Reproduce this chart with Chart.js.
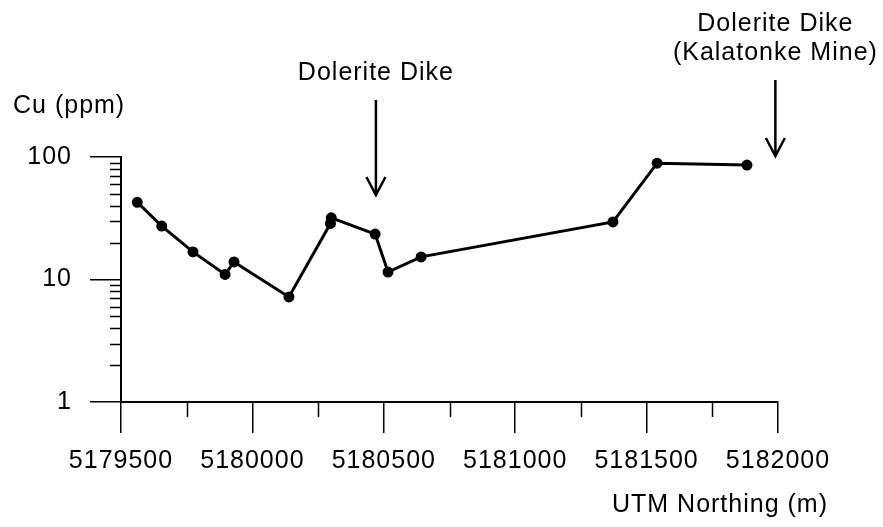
<!DOCTYPE html>
<html>
<head>
<meta charset="utf-8">
<script src="https://cdn.jsdelivr.net/npm/chart.js@4/dist/chart.umd.min.js"></script>
<style>
  html, body { margin: 0; padding: 0; background: #fff; }
  #wrap { width: 883px; height: 527px; }
</style>
</head>
<body>
<div id="wrap"><canvas id="myChart"></canvas></div>
<script>
// datos
const northing = [5179562, 5179655, 5179774, 5179896, 5179930, 5180139, 5180297, 5180300, 5180467, 5180516, 5180642, 5181372, 5181540, 5181882];
const cu = [42.7, 27.3, 16.8, 11.0, 13.9, 7.2, 28.7, 31.9, 23.5, 11.5, 15.3, 29.5, 89, 86];

const xTicks = [5179500, 5180000, 5180500, 5181000, 5181500, 5182000];
const xMinor = [5179750, 5180250, 5180750, 5181250, 5181750];
const yTicks = [1, 10, 100];
const yMinor = [2, 3, 4, 5, 6, 7, 8, 9, 20, 30, 40, 50, 60, 70, 80, 90];

const dikes = [5180470, 5181990];
const dikeLabels = [['Dolerite Dike'], ['Dolerite Dike', '(Kalatonke Mine)']];

const FONT = '"Liberation Sans", Arial, sans-serif';
Chart.defaults.font.family = FONT;
Chart.defaults.font.size = 25;
Chart.defaults.color = '#000';

const spacing = {
  id: 'spacing',
  beforeUpdate(chart) { chart.ctx.letterSpacing = '1px'; },
  beforeDraw(chart) { chart.ctx.letterSpacing = '1px'; }
};

// ticks menores, flechas y textos
const extras = {
  id: 'extras',
  afterDraw(chart) {
    const ctx = chart.ctx;
    const x = chart.scales.x, y = chart.scales.y;
    ctx.save();
    ctx.strokeStyle = '#000';
    ctx.lineWidth = 1.5;
    ctx.beginPath();
    yMinor.forEach(v => {
      const py = Math.round(y.getPixelForValue(v)) + 0.5;
      ctx.moveTo(y.right - 11, py);
      ctx.lineTo(y.right, py);
    });
    xMinor.forEach(v => {
      const px = Math.round(x.getPixelForValue(v)) + 0.5;
      ctx.moveTo(px, x.top);
      ctx.lineTo(px, x.top + 15);
    });
    ctx.stroke();

    // flechas
    const arrows = [[100, 195], [80, 156]];
    ctx.lineWidth = 2.5;
    dikes.forEach((d, i) => {
      const px = x.getPixelForValue(d);
      const [y0, y1] = arrows[i];
      ctx.beginPath();
      ctx.moveTo(px, y0);
      ctx.lineTo(px, y1);
      ctx.moveTo(px - 9.5, y1 - 18);
      ctx.lineTo(px, y1);
      ctx.lineTo(px + 9.5, y1 - 18);
      ctx.stroke();
    });

    ctx.fillStyle = '#000';
    ctx.font = '25px ' + FONT;
    ctx.letterSpacing = '1px';
    ctx.textBaseline = 'middle';
    ctx.textAlign = 'center';
    const labelY = [[73], [24, 53]];
    dikes.forEach((d, i) => {
      const px = x.getPixelForValue(d);
      dikeLabels[i].forEach((t, j) => ctx.fillText(t, px, labelY[i][j]));
    });
    ctx.fillText('UTM Northing (m)', 720, 505);
    ctx.textAlign = 'left';
    ctx.fillText('Cu (ppm)', 13, 106);
    ctx.restore();
  }
};

new Chart('myChart', {
  type: 'scatter',
  data: {
    datasets: [{
      data: northing.map((n, i) => ({ x: n, y: cu[i] })),
      showLine: true,
      borderColor: '#000',
      borderWidth: 3,
      pointRadius: 4,
      pointBackgroundColor: '#000',
      pointBorderColor: '#000',
      tension: 0,
      clip: false
    }]
  },
  options: {
    responsive: true,
    maintainAspectRatio: false,
    animation: false,
    layout: { padding: { left: 0, top: 157, right: 105, bottom: 0 } },
    plugins: { legend: { display: false }, tooltip: { enabled: false } },
    scales: {
      x: {
        type: 'linear',
        min: 5179500,
        max: 5182000,
        afterBuildTicks: s => { s.ticks = xTicks.map(v => ({ value: v })); },
        afterFit: s => { s.height = 125; },
        ticks: { callback: v => String(v), maxRotation: 0, autoSkip: false, padding: 13 },
        grid: { drawOnChartArea: false, drawTicks: true, tickLength: 31, color: '#000', lineWidth: 1.5 },
        border: { display: true, color: '#000', width: 2 }
      },
      y: {
        type: 'logarithmic',
        min: 1,
        max: 100,
        afterBuildTicks: s => { s.ticks = yTicks.map(v => ({ value: v })); },
        afterFit: s => { s.width = 121; },
        ticks: { callback: v => String(v), padding: 18 },
        grid: { drawOnChartArea: false, drawTicks: true, tickLength: 31, color: '#000', lineWidth: 1.5 },
        border: { display: true, color: '#000', width: 2 }
      }
    }
  },
  plugins: [spacing, extras]
});
</script>
</body>
</html>
